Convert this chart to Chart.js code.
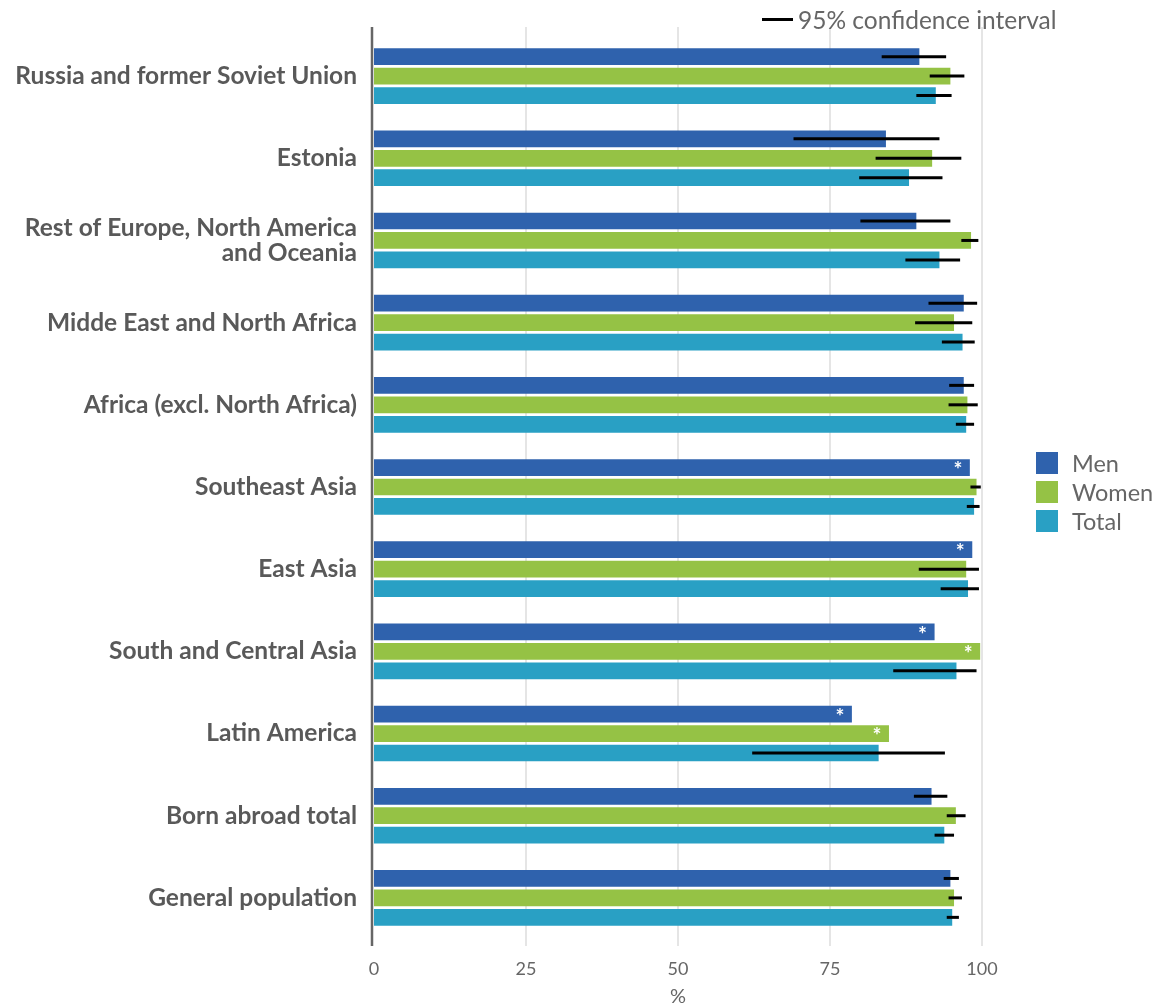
<!DOCTYPE html>
<html>
<head>
<meta charset="utf-8">
<title>Share by region of birth</title>
<script src="https://cdn.jsdelivr.net/npm/chart.js@4.4.1/dist/chart.umd.min.js"></script>
<style>
  html, body { margin: 0; padding: 0; background: #fff; }
  #wrap { position: relative; width: 1160px; height: 1007px; }
  .ci-key { position: absolute; left: 762px; top: 5px; display: flex; align-items: center;
            font: 24.5px Lato, sans-serif; color: #666; }
  .ci-key i { display: inline-block; width: 31px; height: 3px; background: #000; margin-right: 5px; }
  .legend { position: absolute; left: 1036px; top: 452px; font: 23.5px Lato, sans-serif; color: #666; }
  .legend div { display: flex; align-items: center; height: 22px; margin-bottom: 7px; }
  .legend b { display: inline-block; width: 22px; height: 22px; margin-right: 14px; }
</style>
</head>
<body>
<div id="wrap">
  <canvas id="chart" width="1160" height="1007"></canvas>
  <div class="ci-key"><i></i>95% confidence interval</div>
  <div class="legend" id="legend"></div>
</div>
<script>
/* ── 資料 ───────────────────────────── */
const CATEGORIES = [
  'Russia and former Soviet Union',
  'Estonia',
  ['Rest of Europe, North America', 'and Oceania'],
  'Midde East and North Africa',
  'Africa (excl. North Africa)',
  'Southeast Asia',
  'East Asia',
  'South and Central Asia',
  'Latin America',
  'Born abroad total',
  'General population'
];

const SERIES_NAMES = ['Men', 'Women', 'Total'];
const SERIES_COLORS = ['#2f62ad', '#95c245', '#29a0c4'];

const MEN        = [89.7, 84.2, 89.2, 97.0, 97.0, 98.0, 98.4, 92.2, 78.6, 91.7, 94.8];
const MEN_LOW    = [83.5, 69.0, 80.0, 91.2, 94.6, null, null, null, null, 88.8, 93.7];
const MEN_HIGH   = [94.1, 93.0, 94.8, 99.2, 98.7, null, null, null, null, 94.3, 96.2];
const MEN_STAR   = [0, 0, 0, 0, 0, 1, 1, 1, 1, 0, 0];

const WOMEN      = [94.8, 91.8, 98.2, 95.4, 97.6, 99.1, 97.4, 99.7, 84.7, 95.7, 95.4];
const WOMEN_LOW  = [91.4, 82.5, 96.6, 89.0, 94.5, 98.1, 89.6, null, null, 94.2, 94.5];
const WOMEN_HIGH = [97.1, 96.6, 99.4, 98.4, 99.3, 99.8, 99.5, null, null, 97.3, 96.7];
const WOMEN_STAR = [0, 0, 0, 0, 0, 0, 0, 1, 1, 0, 0];

const TOTAL      = [92.4, 88.0, 93.0, 96.8, 97.4, 98.7, 97.7, 95.8, 83.0, 93.8, 95.1];
const TOTAL_LOW  = [89.2, 79.8, 87.4, 93.4, 95.7, 97.5, 93.2, 85.4, 62.2, 92.2, 94.2];
const TOTAL_HIGH = [95.0, 93.5, 96.4, 98.8, 98.7, 99.6, 99.5, 99.1, 93.9, 95.4, 96.2];
const TOTAL_STAR = [0, 0, 0, 0, 0, 0, 0, 0, 0, 0, 0];

const X_TICKS = [0, 25, 50, 75, 100];

const VALUES = [MEN, WOMEN, TOTAL];
const LOWS   = [MEN_LOW, WOMEN_LOW, TOTAL_LOW];
const HIGHS  = [MEN_HIGH, WOMEN_HIGH, TOTAL_HIGH];
const STARS  = [MEN_STAR, WOMEN_STAR, TOTAL_STAR];

/* ── 圖例（HTML） ───────────────────── */
document.getElementById('legend').innerHTML = SERIES_NAMES
  .map((n, i) => `<div><b style="background:${SERIES_COLORS[i]}"></b>${n}</div>`)
  .join('');

/* 格線、座標軸線、誤差線與星號 */
const decorations = {
  id: 'decorations',
  beforeDatasetsDraw(chart) {
    const { ctx, chartArea: a, scales: { x } } = chart;
    ctx.save();
    ctx.strokeStyle = '#dddddd';
    ctx.lineWidth = 1.5;
    X_TICKS.slice(1).forEach(v => {
      const px = Math.round(x.getPixelForValue(v));
      ctx.beginPath();
      ctx.moveTo(px, a.top - 8);
      ctx.lineTo(px, a.bottom + 7);
      ctx.stroke();
    });
    ctx.strokeStyle = '#666';
    ctx.lineWidth = 2.5;
    const px0 = x.getPixelForValue(0) - 2;
    ctx.beginPath();
    ctx.moveTo(px0, a.top - 8);
    ctx.lineTo(px0, a.bottom + 7);
    ctx.stroke();
    ctx.restore();
  },
  afterDatasetsDraw(chart) {
    const { ctx, scales: { x } } = chart;
    ctx.save();
    VALUES.forEach((_, di) => {
      const meta = chart.getDatasetMeta(di);
      meta.data.forEach((bar, i) => {
        const lo = LOWS[di][i], hi = HIGHS[di][i];
        if (lo != null && hi != null) {
          ctx.strokeStyle = '#000';
          ctx.lineWidth = 3;
          ctx.beginPath();
          ctx.moveTo(x.getPixelForValue(lo), bar.y);
          ctx.lineTo(x.getPixelForValue(hi), bar.y);
          ctx.stroke();
        }
        if (STARS[di][i]) {
          ctx.fillStyle = '#fff';
          ctx.font = 'bold 21px Lato, sans-serif';
          ctx.textAlign = 'center';
          ctx.textBaseline = 'middle';
          ctx.fillText('*', bar.x - 12, bar.y + 3);
        }
      });
    });
    ctx.restore();
  }
};

new Chart(document.getElementById('chart'), {
  type: 'bar',
  data: {
    labels: CATEGORIES,
    datasets: VALUES.map((v, i) => ({
      label: SERIES_NAMES[i],
      data: v,
      backgroundColor: SERIES_COLORS[i],
      borderWidth: 0,
      barPercentage: 0.86,
      categoryPercentage: 0.71
    }))
  },
  options: {
    indexAxis: 'y',
    responsive: false,
    animation: false,
    layout: { padding: { top: 35, right: 178, bottom: 0, left: 0 } },
    plugins: {
      legend: { display: false },
      tooltip: { enabled: false }
    },
    scales: {
      x: {
        min: 0,
        max: 100,
        afterFit: s => { s.height = 68; },
        afterBuildTicks: s => { s.ticks = X_TICKS.map(v => ({ value: v })); },
        grid: { display: false },
        border: { display: false },
        ticks: { padding: 11, color: '#666', font: { family: 'Lato', size: 18 } },
        title: {
          display: true, text: '%', color: '#666',
          font: { family: 'Lato', size: 20 }, padding: { top: 0, bottom: -2 }
        }
      },
      y: {
        afterFit: s => { s.width = 374; },
        grid: { display: false },
        border: { display: false },
        ticks: {
          padding: 9,
          color: '#595959',
          font: { family: 'Lato', size: 24.5, weight: 'bold', lineHeight: 1.0 }
        }
      }
    }
  },
  plugins: [decorations]
});
</script>
</body>
</html>
